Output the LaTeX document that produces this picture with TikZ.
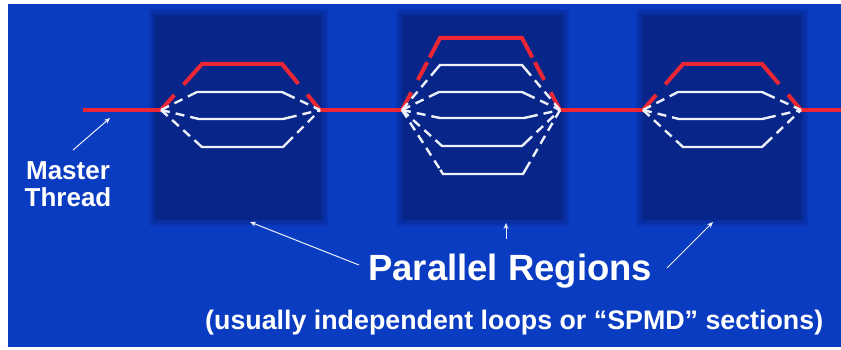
\documentclass[tikz,border=0pt]{standalone}
\usepackage{fontspec}
\setmainfont{Liberation Sans}
\usetikzlibrary{calc,arrows.meta}

\definecolor{slidebg}{RGB}{10,60,194}
\definecolor{regionbg}{RGB}{8,38,138}
\definecolor{threadred}{RGB}{236,38,52}
\definecolor{threadwhite}{RGB}{238,240,250}

\tikzset{
  regionbox/.style={fill=regionbg, draw=none},
  redsolid/.style={draw=threadred, line width=4pt, line join=miter},
  reddash/.style={draw=threadred, line width=4pt, dash pattern=on 20pt off 14pt},
  whitesolid/.style={draw=threadwhite, line width=2.4pt},
  whitedash/.style={draw=threadwhite, line width=2.4pt, dash pattern=on 9pt off 6pt},
  pointer/.style={draw=threadwhite, line width=1pt, -{Stealth[length=6pt,width=5pt]}},
  label/.style={text=white, font=\bfseries, inner sep=0pt}
}

% one worker thread: dashed fork, solid body, dashed join
\newcommand{\workthread}[5]{% fork, join, y, x-start, x-end
  \coordinate (ta) at (#4,#3);
  \coordinate (tb) at (#5,#3);
  \draw[whitedash] (#1) -- ($(ta)!5pt!(#1)$);
  \draw[whitesolid] ($(ta)!5pt!(#1)$) -- (ta) -- (tb) -- ($(tb)!5pt!(#2)$);
  \draw[whitedash] ($(tb)!5pt!(#2)$) -- (#2);
}
% the master thread's detour over the top of a region
\newcommand{\masterloop}[5]{% fork, join, y, x-start, x-end
  \coordinate (ma) at (#4,#3);
  \coordinate (mb) at (#5,#3);
  \draw[reddash] (#1) -- ($(ma)!22pt!(#1)$);
  \draw[redsolid] ($(ma)!22pt!(#1)$) -- (ma) -- (mb) -- ($(mb)!22pt!(#2)$);
  \draw[reddash] (#2) -- ($(mb)!22pt!(#2)$);
}
% a soft-edged dark panel
\newcommand{\regionpanel}[5]{% name, x1, y1, x2, y2
  \foreach \d in {6,4,2}
    \fill[regionbg, opacity=0.28] (#2-\d,#3-\d) rectangle (#4+\d,#5+\d);
  \node[regionbox, inner sep=0pt, minimum width=#4-#2, minimum height=#5-#3,
        anchor=north west] (#1) at (#2,#3) {};
}

\begin{document}
\begin{tikzpicture}[x=1pt,y=-1pt]
  \useasboundingbox (0,0) rectangle (841,350);
  \fill[white] (0,0) rectangle (841,350);
  \fill[slidebg] (8,4) rectangle (841,347);

  % parallel regions
  \regionpanel{r1}{155}{15}{322}{220}
  \regionpanel{r2}{402}{15}{563}{220}
  \regionpanel{r3}{642}{15}{802}{220}

  % fork and join points on the master thread
  \coordinate (start) at (83,110);
  \coordinate (f1) at (161,110);  \coordinate (j1) at (320,110);
  \coordinate (f2) at (402,110);  \coordinate (j2) at (560,110);
  \coordinate (f3) at (643,110);  \coordinate (j3) at (801,110);
  \coordinate (finish) at (841,110);

  % master thread between regions
  \draw[redsolid] (start) -- (f1);
  \draw[redsolid] (j1) -- (f2);
  \draw[redsolid] (j2) -- (f3);
  \draw[redsolid] (j3) -- (finish);

  % region 1
  \masterloop{f1}{j1}{64}{202}{282}
  \workthread{f1}{j1}{92}{197}{282}
  \workthread{f1}{j1}{119}{199}{283}
  \workthread{f1}{j1}{147}{202}{283}

  % region 2
  \masterloop{f2}{j2}{38}{440}{522}
  \workthread{f2}{j2}{65}{440}{522}
  \workthread{f2}{j2}{92}{439}{522}
  \workthread{f2}{j2}{118}{440}{524}
  \workthread{f2}{j2}{146}{442}{522}
  \workthread{f2}{j2}{174}{443}{523}

  % region 3
  \masterloop{f3}{j3}{64}{683}{762}
  \workthread{f3}{j3}{92}{678}{762}
  \workthread{f3}{j3}{119}{679}{762}
  \workthread{f3}{j3}{147}{683}{762}

  % labels
  \node[label, font=\bfseries\fontsize{26}{27}\selectfont, align=center]
    (master) at (68,184) {Master\\Thread};
  \node[label, font=\bfseries\fontsize{36.5}{40}\selectfont, anchor=base west]
    (pr) at (368,280) {Parallel Regions};
  \node[label, font=\bfseries\fontsize{26.8}{30}\selectfont, anchor=base west]
    (sub) at (205,329) {(usually independent loops or “SPMD” sections)};

  % pointers
  \coordinate (mtail) at (73,150);
  \coordinate (mtip) at (110,118);
  \coordinate (t1) at (359,265);
  \coordinate (p1) at (250,222);
  \coordinate (t2) at (506,239);
  \coordinate (p2) at (506,223);
  \coordinate (t3) at (667,268);
  \coordinate (p3) at (713,222);
  \draw[pointer] (mtail) -- (mtip);
  \draw[pointer] (t1) -- (p1);
  \draw[pointer] (t2) -- (p2);
  \draw[pointer] (t3) -- (p3);
\end{tikzpicture}
\end{document}
